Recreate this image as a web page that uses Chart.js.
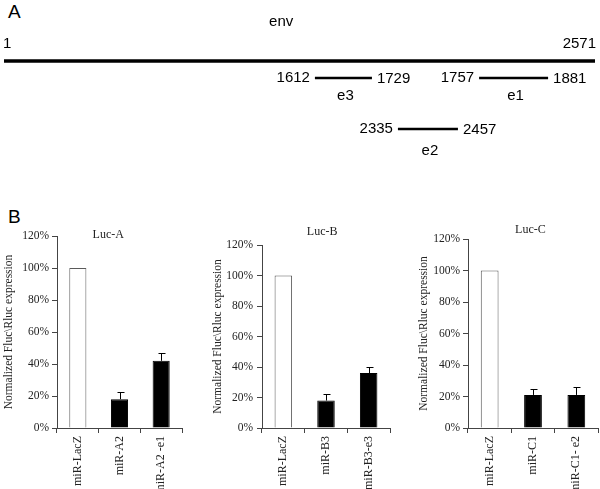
<!DOCTYPE html>
<html>
<head>
<meta charset="utf-8">
<script src="https://cdn.jsdelivr.net/npm/chart.js@4.4.1/dist/chart.umd.min.js"></script>
<style>
  html, body { margin:0; padding:0; background:#fff; }
  body { width:600px; height:489px; position:relative; overflow:hidden; }
  .box { position:absolute; }
  .panel-letter { position:absolute; font-family:"Liberation Sans", Arial, sans-serif; font-size:19px; color:#000; line-height:1; }
</style>
</head>
<body>
<div class="panel-letter" style="left:8px; top:2px;">A</div>
<div class="panel-letter" style="left:8px; top:207px;">B</div>
<div class="box" style="left:0; top:0; width:600px; height:175px;"><canvas id="envMap" width="600" height="175"></canvas></div>
<div class="box" style="left:0; top:200px; width:190px; height:289px;"><canvas id="lucA" width="190" height="289"></canvas></div>
<div class="box" style="left:200px; top:200px; width:200px; height:289px;"><canvas id="lucB" width="200" height="289"></canvas></div>
<div class="box" style="left:400px; top:200px; width:200px; height:289px;"><canvas id="lucC" width="200" height="289"></canvas></div>
<script>
// ---------- Panel A data ----------
const envName = 'env';
const envRange = [1, 2571];
const fragmentNames = ['e3', 'e1', 'e2'];
const fragmentStart = [1612, 1757, 2335];
const fragmentEnd = [1729, 1881, 2457];
// schematic placement of each fragment as drawn along the env line (env units)
const fragmentDrawStart = [1353, 2067, 1714];
const fragmentDrawEnd = [1601, 2367, 1975];
const fragmentTrack = [1, 1, 4];

// ---------- Panel B data ----------
const yTickValues = [0, 20, 40, 60, 80, 100, 120];
const yAxisTitle = 'Normalized Fluc\\Rluc expression';

const lucATitle = 'Luc-A';
const lucACategories = ['miR-LacZ', 'miR-A2', 'miR-A2 -e1'];
const lucAValues = [100, 18, 42];
const lucAErrors = [0, 4.5, 5];

const lucBTitle = 'Luc-B';
const lucBCategories = ['miR-LacZ', 'miR-B3', 'miR-B3-e3'];
const lucBValues = [100, 18, 36];
const lucBErrors = [0, 4, 4];

const lucCTitle = 'Luc-C';
const lucCCategories = ['miR-LacZ', 'miR-C1', 'miR-C1- e2'];
const lucCValues = [100, 21, 21];
const lucCErrors = [0, 4, 5];

// ---------- Panel A chart ----------
const SANS = '"Liberation Sans", Arial, sans-serif';
const SERIF = '"Liberation Serif", "Times New Roman", serif';

const mapDatasets = [{
  data: [{x: envRange[0], y: 0}, {x: envRange[1], y: 0}],
  borderColor: '#000', borderWidth: 3.5, pointRadius: 0, showLine: true, borderCapStyle: 'butt'
}];
fragmentNames.forEach((n, i) => {
  mapDatasets.push({
    data: [{x: fragmentDrawStart[i], y: fragmentTrack[i]}, {x: fragmentDrawEnd[i], y: fragmentTrack[i]}],
    borderColor: '#000', borderWidth: 2.6, pointRadius: 0, showLine: true, borderCapStyle: 'butt'
  });
});

const mapLabels = {
  id: 'mapLabels',
  afterDatasetsDraw(chart) {
    const {ctx, scales: {x, y}} = chart;
    ctx.save();
    ctx.fillStyle = '#000';
    ctx.font = '15px ' + SANS;
    ctx.textBaseline = 'middle';
    const y0 = y.getPixelForValue(0);
    ctx.textAlign = 'left';
    ctx.fillText(String(envRange[0]), x.getPixelForValue(envRange[0]) - 1, y0 - 17);
    ctx.textAlign = 'right';
    ctx.fillText(String(envRange[1]), x.getPixelForValue(envRange[1]) + 1, y0 - 17);
    ctx.textAlign = 'center';
    const xl = x.getPixelForValue(envRange[0]), xr = x.getPixelForValue(envRange[1]);
    ctx.fillText(envName, xl + (xr - xl) * 0.469, y0 - 39);
    fragmentNames.forEach((n, i) => {
      const yy = y.getPixelForValue(fragmentTrack[i]);
      const xs = x.getPixelForValue(fragmentDrawStart[i]);
      const xe = x.getPixelForValue(fragmentDrawEnd[i]);
      ctx.textAlign = 'right';
      ctx.fillText(String(fragmentStart[i]), xs - 5, yy);
      ctx.textAlign = 'left';
      ctx.fillText(String(fragmentEnd[i]), xe + 5, yy + 1);
      ctx.textAlign = 'center';
      ctx.fillText(n, (xs + xe) / 2 + 2, yy + (fragmentTrack[i] > 1 ? 22 : 18));
    });
    ctx.restore();
  }
};

new Chart(document.getElementById('envMap'), {
  type: 'scatter',
  data: {datasets: mapDatasets},
  options: {
    responsive: false, animation: false, devicePixelRatio: 1,
    layout: {padding: {left: 4, right: 5, top: 10, bottom: 12}},
    plugins: {legend: {display: false}, tooltip: {enabled: false}},
    scales: {
      x: {type: 'linear', display: false, min: envRange[0], max: envRange[1]},
      y: {type: 'linear', display: false, min: -3, max: 6, reverse: true}
    }
  },
  plugins: [mapLabels]
});

// ---------- Panel B charts ----------
const AXIS_COLOR = '#444';

const errorBars = {
  id: 'errorBars',
  afterDatasetsDraw(chart, args, opts) {
    const {ctx, scales: {y}} = chart;
    const meta = chart.getDatasetMeta(0);
    const vals = chart.data.datasets[0].data;
    ctx.save();
    ctx.strokeStyle = '#000';
    ctx.lineWidth = 1;
    opts.errors.forEach((e, i) => {
      if (!e) return;
      const bx = Math.round(meta.data[i].x) + 0.5;
      const yb = y.getPixelForValue(vals[i]);
      const yt = Math.round(y.getPixelForValue(vals[i] + e)) + 0.5;
      ctx.beginPath();
      ctx.moveTo(bx, yb);
      ctx.lineTo(bx, yt);
      ctx.moveTo(bx - 3, yt);
      ctx.lineTo(bx + 4, yt);
      ctx.stroke();
    });
    ctx.restore();
  }
};

const panelTitle = {
  id: 'panelTitle',
  afterDraw(chart, args, opts) {
    const {ctx, chartArea} = chart;
    ctx.save();
    ctx.fillStyle = '#222';
    ctx.font = '12px ' + SERIF;
    ctx.textAlign = 'center';
    ctx.textBaseline = 'middle';
    ctx.fillText(opts.text, chartArea.left + (chartArea.right - chartArea.left) * opts.fx, chartArea.top + opts.dy);
    ctx.restore();
  }
};

function makeBarChart(id, title, categories, values, errors, cfg) {
  return new Chart(document.getElementById(id), {
    type: 'bar',
    data: {
      labels: categories,
      datasets: [{
        data: values,
        backgroundColor: values.map((v, i) => i === 0 ? '#ffffff' : '#000000'),
        borderColor: values.map((v, i) => i === 0 ? '#5a5a5a' : '#000000'),
        borderWidth: 1,
        barPercentage: 1,
        categoryPercentage: 0.41
      }]
    },
    options: {
      responsive: false, animation: false, devicePixelRatio: 1,
      layout: {padding: {left: cfg.padLeft, right: cfg.padRight, top: cfg.padTop, bottom: 0}},
      plugins: {
        legend: {display: false}, tooltip: {enabled: false},
        errorBars: {errors: errors},
        panelTitle: {text: title, fx: cfg.titleFx, dy: cfg.titleDy}
      },
      scales: {
        x: {
          grid: {display: true, drawOnChartArea: false, drawTicks: true, tickLength: 5, color: AXIS_COLOR, offset: true},
          border: {color: AXIS_COLOR},
          ticks: {minRotation: 90, maxRotation: 90, autoSkip: false, padding: 3, color: '#222', font: {family: SERIF, size: 12}},
          afterFit: s => { s.height = 61; }
        },
        y: {
          min: 0, max: 120,
          afterBuildTicks: s => { s.ticks = yTickValues.map(v => ({value: v})); },
          grid: {display: true, drawOnChartArea: false, drawTicks: true, tickLength: 5, color: AXIS_COLOR},
          border: {color: AXIS_COLOR},
          ticks: {padding: cfg.tickPad, color: '#222', font: {family: SERIF, size: 11.5}, callback: v => v + '%'},
          title: {display: true, text: yAxisTitle, color: '#222', font: {family: SERIF, size: 11.5}, padding: {top: 1, bottom: 0}},
          afterFit: s => { s.width = cfg.axisWidth; }
        }
      }
    },
    plugins: [errorBars, panelTitle]
  });
}

makeBarChart('lucA', lucATitle, lucACategories, lucAValues, lucAErrors,
  {padLeft: 1, axisWidth: 56, padRight: 8, padTop: 36, tickPad: 3, titleFx: 0.41, titleDy: -1});
makeBarChart('lucB', lucBTitle, lucBCategories, lucBValues, lucBErrors,
  {padLeft: 10, axisWidth: 52, padRight: 10, padTop: 45, tickPad: 4, titleFx: 0.47, titleDy: -13});
makeBarChart('lucC', lucCTitle, lucCCategories, lucCValues, lucCErrors,
  {padLeft: 16, axisWidth: 52, padRight: 2, padTop: 39, tickPad: 3, titleFx: 0.48, titleDy: -9});
</script>
</body>
</html>
